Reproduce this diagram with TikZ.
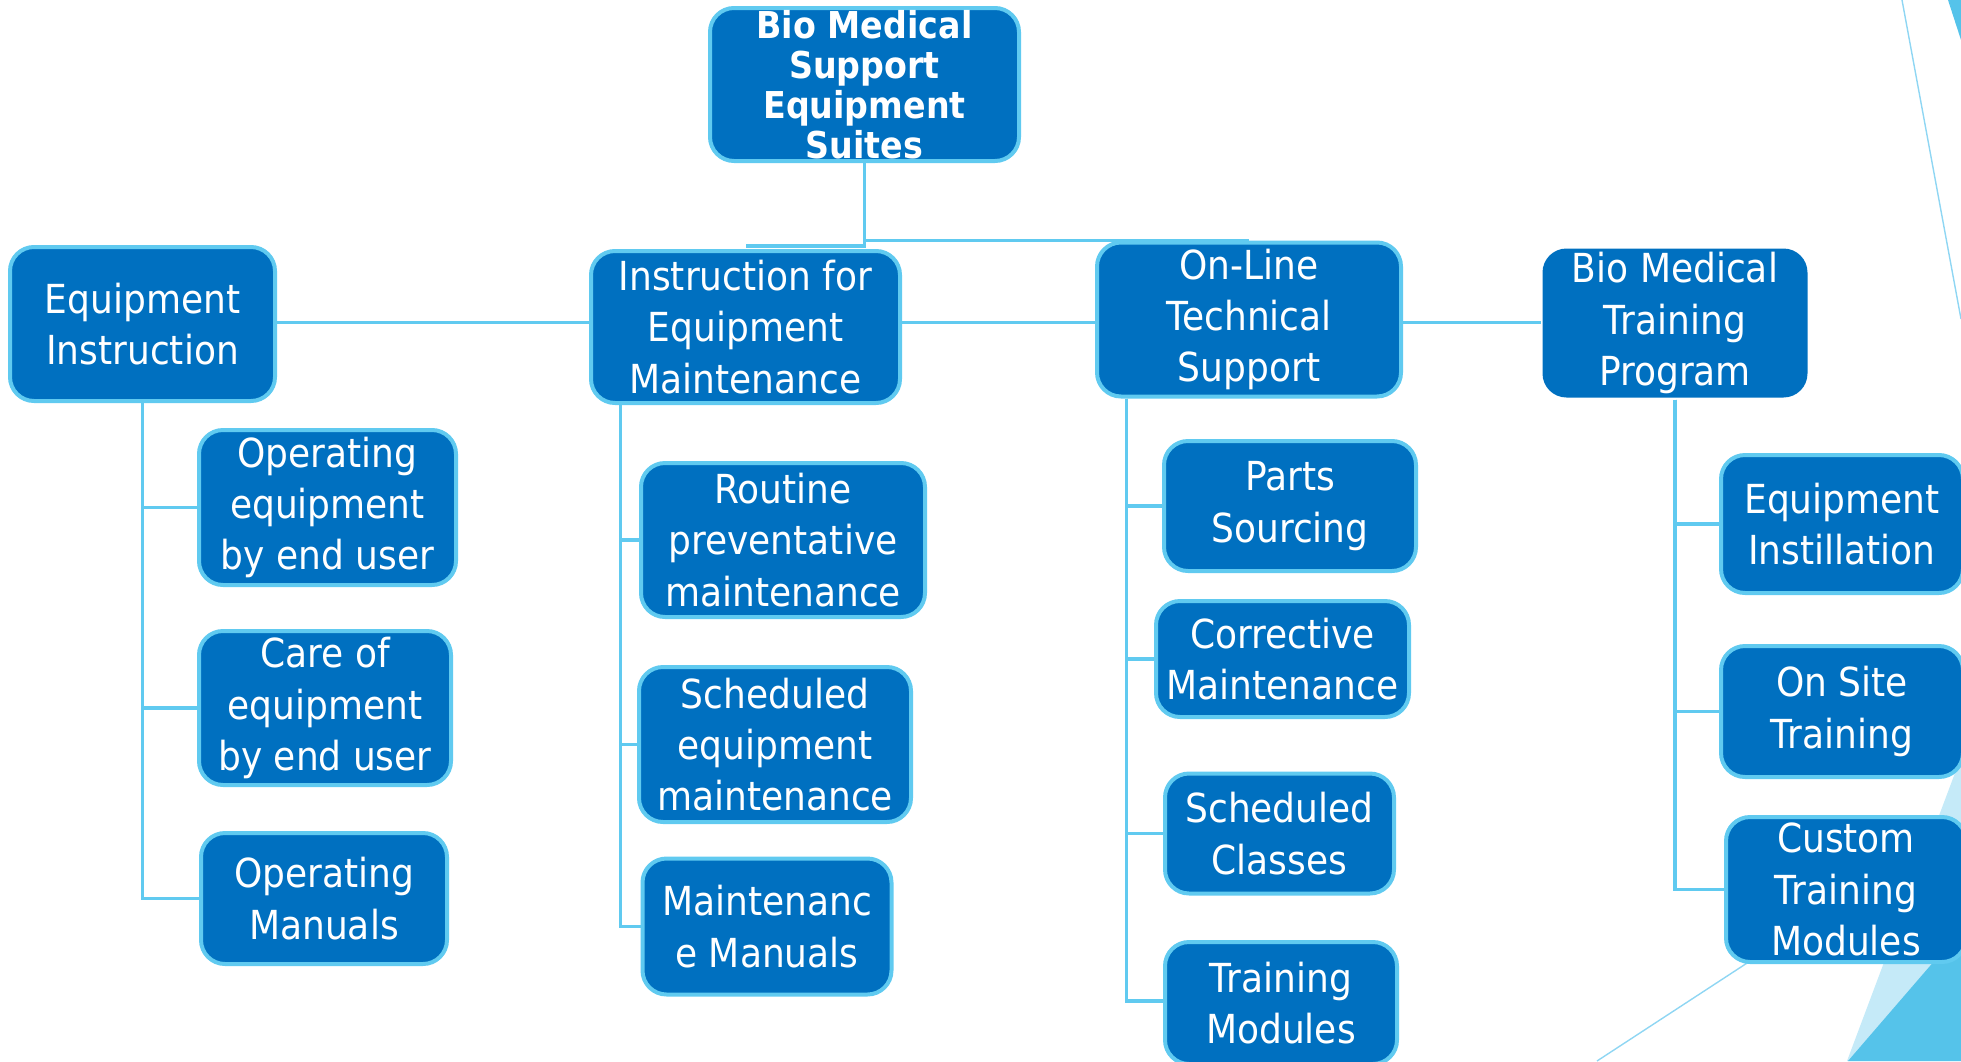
\documentclass[tikz,border=0pt]{standalone}
\usepackage{fontspec}
\setmainfont{DejaVu Sans}[FakeStretch=0.9]
\usetikzlibrary{calc,backgrounds}
\definecolor{db}{HTML}{0070C0}
\definecolor{lb}{HTML}{60CAF0}
\definecolor{decolight}{HTML}{C5EAF8}
\definecolor{decodark}{HTML}{55C3EA}
\definecolor{decoline}{HTML}{8FD6F3}
\begin{document}
\begin{tikzpicture}[x=0.5pt,y=-0.5pt,
  box/.style={draw=lb, line width=2pt, fill=db, rounded corners=12pt, text=white,
    align=center, inner sep=0pt, font=\fontsize{20pt}{25.6pt}\selectfont},
  topbox/.style={box, font=\fontsize{18.5pt}{20pt}\selectfont\bfseries},
  sz/.style 2 args={minimum width=#1*0.5pt, minimum height=#2*0.5pt},
  conn/.style={draw=lb, line width=1.8pt},
  decoln/.style={draw=decoline, line width=0.7pt}]
\useasboundingbox (0,0) rectangle (1961,1061);
% decorations
\fill[decolight] (1847,1061) -- (1961,757) -- (1961,1061) -- cycle;
\fill[decodark] (1848,1061) -- (1961,930) -- (1961,1061) -- cycle;
\fill[decodark] (1948,0) -- (1961,0) -- (1961,40) -- cycle;
\draw[decoln] (1902,0) -- (1961,319);
\draw[decoln] (1597,1061) -- (1790,935);

% nodes
\node[topbox, sz={309}{153}] (top) at (864.5,84.5) {Bio Medical\\Support\\Equipment\\Suites};
\node[box, sz={265}{154}] (ei) at (142.5,324) {Equipment\\Instruction};
\node[box, sz={309}{152}] (ifem) at (745.5,327) {Instruction for\\Equipment\\Maintenance};
\node[box, sz={304}{154}] (olts) at (1249,319.5) {On-Line\\Technical\\Support};
\node[box, draw=none, sz={265}{149}] (bmtp) at (1675,323) {Bio Medical\\Training\\Program};

\node[box, sz={257}{155}] (oe) at (327.5,507.5) {Operating\\equipment\\by end user};
\node[box, sz={252}{154}] (ce) at (325,708) {Care of\\equipment\\by end user};
\node[box, sz={246}{131}] (om) at (324,898.5) {Operating\\Manuals};

\node[box, sz={284}{154}] (rpm) at (783,540) {Routine\\preventative\\maintenance};
\node[box, sz={272}{155}] (sem) at (775,744.5) {Scheduled\\equipment\\maintenance};
\node[box, sz={249}{136}] (mm) at (767,926.5) {Maintenanc\\e Manuals};

\node[box, sz={252}{130}] (ps) at (1290,506) {Parts\\Sourcing};
\node[box, sz={253}{116}] (cm) at (1282.5,659) {Corrective\\Maintenance};
\node[box, sz={229}{120}] (sc) at (1279.5,833.5) {Scheduled\\Classes};
\node[box, sz={232}{122}] (tm) at (1281,1003) {Training\\Modules};

\node[box, sz={242}{138}] (ein) at (1842,524) {Equipment\\Instillation};
\node[box, sz={242}{131}] (ost) at (1842,711.5) {On Site\\Training};
\node[box, sz={240}{145}] (ctm) at (1846,889.5) {Custom\\Training\\Modules};

\coordinate (c2) at ($(ifem.south west)+(31.5,0)$);
\coordinate (c3) at ($(olts.south west)+(31.5,0)$);
\coordinate (rowy) at (0,322.5);

\begin{pgfonlayer}{background}
\draw[conn] (top.south) |- (olts.north);
\draw[conn] (top.south) |- ($(ifem.north)+(0,-3)$);
\draw[conn] (ei.east |- rowy) -- (ifem.west |- rowy);
\draw[conn] (ifem.east |- rowy) -- (olts.west |- rowy);
\draw[conn] (olts.east |- rowy) -- (bmtp.west |- rowy);
\draw[conn] (ei.south) |- (oe.west);
\draw[conn] (ei.south) |- (ce.west);
\draw[conn] (ei.south) |- (om.west);
\draw[conn] (c2) |- (rpm.west);
\draw[conn] (c2) |- (sem.west);
\draw[conn] (c2) |- (mm.west);
\draw[conn] (c3) |- (ps.west);
\draw[conn] (c3) |- (cm.west);
\draw[conn] (c3) |- (sc.west);
\draw[conn] (c3) |- ($(tm.west)+(0,-2)$);
\draw[conn] (bmtp.south) |- (ein.west);
\draw[conn] (bmtp.south) |- (ost.west);
\draw[conn] (bmtp.south) |- (ctm.west);
\end{pgfonlayer}
\end{tikzpicture}
\end{document}
